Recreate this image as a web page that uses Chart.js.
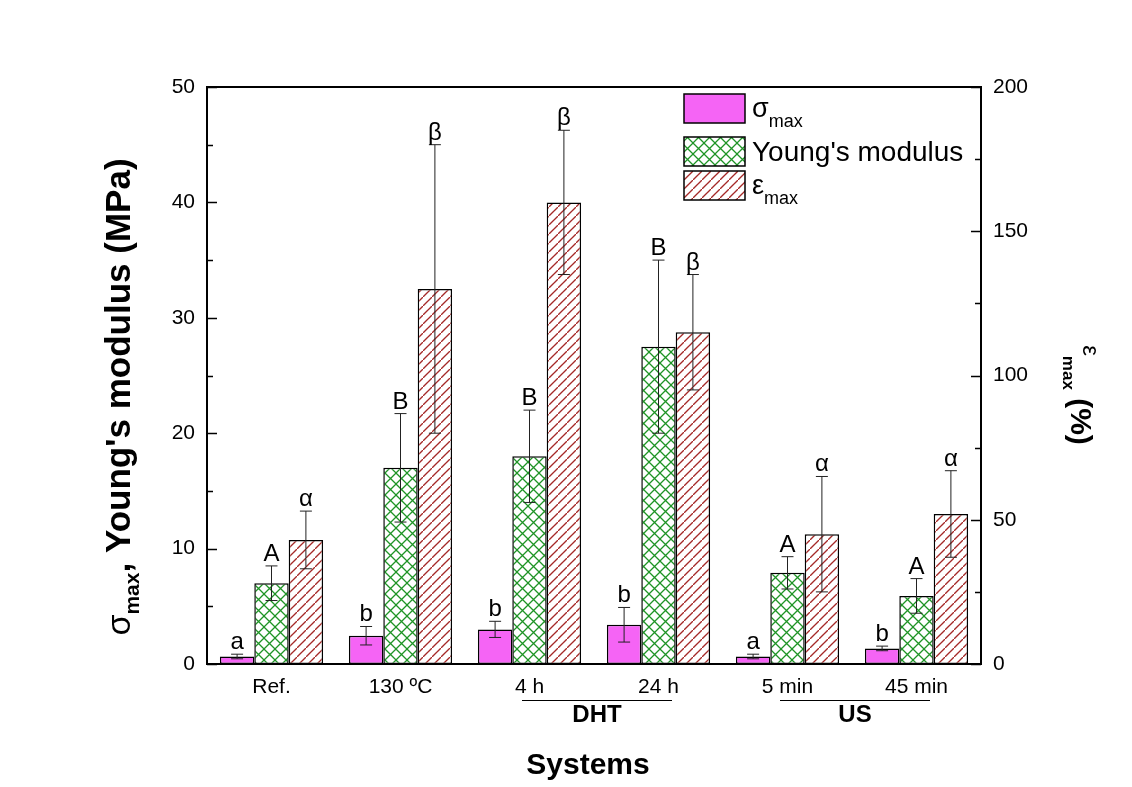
<!DOCTYPE html>
<html>
<head>
<meta charset="utf-8">
<script src="https://cdn.jsdelivr.net/npm/chart.js@4.4.0/dist/chart.umd.min.js"></script>
<style>
  body { margin: 0; background: #fff; }
  #wrap { width: 1132px; height: 787px; }
</style>
</head>
<body>
<div id="wrap"><canvas id="chart"></canvas></div>
<script>
// Daten
const systems = ['Ref.', '130 ºC', '4 h', '24 h', '5 min', '45 min'];
const sigmaMax = [0.65, 2.45, 3.0, 3.4, 0.65, 1.35];     // MPa
const sigmaErr = [0.2, 0.8, 0.7, 1.5, 0.2, 0.2];
const youngMod = [7.0, 17.0, 18.0, 27.5, 7.9, 5.9];      // MPa
const youngErr = [1.5, 4.7, 4.0, 7.5, 1.4, 1.5];
const epsMax = [43, 130, 160, 115, 45, 52];             // %
const epsErr = [10, 50, 25, 20, 20, 15];
const sigmaLetters = ['a', 'b', 'b', 'b', 'a', 'b'];
const youngLetters = ['A', 'B', 'B', 'B', 'A', 'A'];
const epsLetters = ['α', 'β', 'β', 'β', 'α', 'α'];
const leftTicks = [0, 10, 20, 30, 40, 50];
const rightTicks = [0, 50, 100, 150, 200];
const groups = [
  { name: 'DHT', from: 2, to: 3 },
  { name: 'US', from: 4, to: 5 }
];

const FONT = "'Liberation Sans', Arial, sans-serif";
const canvas = document.getElementById('chart');
const mainCtx = canvas.getContext('2d');

// Schraffur-Muster für die Balken
function makePattern(color, cross, size, lw) {
  const c = document.createElement('canvas');
  c.width = size; c.height = size;
  const g = c.getContext('2d');
  g.fillStyle = '#fff';
  g.fillRect(0, 0, size, size);
  g.strokeStyle = color;
  g.lineWidth = lw;
  g.beginPath();
  g.moveTo(-1, size + 1); g.lineTo(size + 1, -1);
  if (cross) { g.moveTo(-1, -1); g.lineTo(size + 1, size + 1); }
  g.stroke();
  return mainCtx.createPattern(c, 'repeat');
}

const sigmaFill = '#f564f5';
const youngFill = makePattern('#1f9426', true, 11, 1.3);
const epsFill = makePattern('#a52a28', false, 9, 1.3);

const errArrays = [sigmaErr, youngErr, epsErr];
const letterArrays = [sigmaLetters, youngLetters, epsLetters];

// Text mit Tiefstellung zeichnen (Teile nacheinander)
function drawParts(ctx, parts, x, y, angle) {
  ctx.save();
  ctx.translate(x, y);
  ctx.rotate(angle);
  let total = 0;
  parts.forEach(p => { ctx.font = p.font; total += ctx.measureText(p.text).width; });
  let cx = -total / 2;
  ctx.textBaseline = 'alphabetic';
  ctx.textAlign = 'left';
  ctx.fillStyle = '#000';
  parts.forEach(p => {
    ctx.font = p.font;
    ctx.fillText(p.text, cx, p.dy || 0);
    cx += ctx.measureText(p.text).width;
  });
  ctx.restore();
}

const errorBars = {
  id: 'errorBars',
  afterDatasetsDraw(chart) {
    const ctx = chart.ctx;
    ctx.save();
    chart.data.datasets.forEach((ds, i) => {
      const meta = chart.getDatasetMeta(i);
      const yScale = chart.scales[ds.yAxisID];
      meta.data.forEach((bar, j) => {
        const v = ds.data[j], e = errArrays[i][j];
        const yTop = yScale.getPixelForValue(v + e);
        const yBot = yScale.getPixelForValue(v - e);
        ctx.strokeStyle = '#222';
        ctx.lineWidth = 1;
        ctx.beginPath();
        ctx.moveTo(bar.x, yTop); ctx.lineTo(bar.x, yBot);
        ctx.moveTo(bar.x - 6, yTop); ctx.lineTo(bar.x + 6, yTop);
        ctx.moveTo(bar.x - 6, yBot); ctx.lineTo(bar.x + 6, yBot);
        ctx.stroke();
        ctx.fillStyle = '#000';
        ctx.font = '24px ' + FONT;
        ctx.textAlign = 'center';
        ctx.textBaseline = 'alphabetic';
        ctx.fillText(letterArrays[i][j], bar.x, yTop - 5);
      });
    });
    ctx.restore();
  }
};

const frameAndDeco = {
  id: 'frameAndDeco',
  afterDraw(chart) {
    const ctx = chart.ctx;
    const a = chart.chartArea;
    const y = chart.scales.y, y2 = chart.scales.y2, x = chart.scales.x;
    ctx.save();
    // Rahmen
    ctx.strokeStyle = '#000';
    ctx.lineWidth = 2;
    ctx.strokeRect(a.left, a.top, a.right - a.left, a.bottom - a.top);
    // Ticks nach innen
    ctx.lineWidth = 1.5;
    ctx.beginPath();
    for (let v = 0; v <= 50; v += 5) {
      const p = Math.round(y.getPixelForValue(v)) + 0.5;
      const len = v % 10 === 0 ? 10 : 6;
      ctx.moveTo(a.left, p); ctx.lineTo(a.left + len, p);
    }
    for (let v = 0; v <= 200; v += 25) {
      const p = Math.round(y2.getPixelForValue(v)) + 0.5;
      const len = v % 50 === 0 ? 10 : 6;
      ctx.moveTo(a.right, p); ctx.lineTo(a.right - len, p);
    }
    ctx.stroke();

    // Gruppen DHT / US
    ctx.lineWidth = 1.2;
    groups.forEach(g => {
      const x1 = x.getPixelForValue(g.from), x2 = x.getPixelForValue(g.to);
      const mid = (x1 + x2) / 2 + 3;
      ctx.beginPath();
      ctx.moveTo(mid - 75, 700.5); ctx.lineTo(mid + 75, 700.5);
      ctx.stroke();
      ctx.fillStyle = '#000';
      ctx.font = 'bold 24px ' + FONT;
      ctx.textAlign = 'center';
      ctx.textBaseline = 'alphabetic';
      ctx.fillText(g.name, mid, 722);
    });

    // Achsentitel
    ctx.font = 'bold 30px ' + FONT;
    ctx.textAlign = 'center';
    ctx.fillText('Systems', (a.left + a.right) / 2 - 6, 774);

    drawParts(ctx, [
      { text: 'σ', font: '34px ' + FONT },
      { text: 'max', font: 'bold 21px ' + FONT, dy: 9 },
      { text: ", Young's modulus (MPa)", font: 'bold 35px ' + FONT }
    ], 130, 397, -Math.PI / 2);

    drawParts(ctx, [
      { text: 'ε', font: '24px ' + FONT, dy: -12 },
      { text: 'max', font: 'bold 17px ' + FONT, dy: 8 },
      { text: ' (%)', font: 'bold 30px ' + FONT }
    ], 1071, 395, Math.PI / 2);

    // Legende
    const items = [
      { fill: sigmaFill, top: 94, parts: [{ t: 'σ', f: '27px ' + FONT }, { t: 'max', f: '18px ' + FONT, dy: 10 }], base: 117 },
      { fill: youngFill, top: 137, parts: [{ t: "Young's modulus", f: '28px ' + FONT }], base: 161 },
      { fill: epsFill, top: 171, parts: [{ t: 'ε', f: '27px ' + FONT }, { t: 'max', f: '18px ' + FONT, dy: 10 }], base: 194 }
    ];
    items.forEach(it => {
      ctx.fillStyle = it.fill;
      ctx.fillRect(684, it.top, 61, 29);
      ctx.lineWidth = 1.5;
      ctx.strokeStyle = '#000';
      ctx.strokeRect(684, it.top, 61, 29);
      let tx = 752;
      ctx.fillStyle = '#000';
      ctx.textAlign = 'left';
      it.parts.forEach(p => {
        ctx.font = p.f;
        ctx.fillText(p.t, tx, it.base + (p.dy || 0));
        tx += ctx.measureText(p.t).width;
      });
    });
    ctx.restore();
  }
};

new Chart(canvas, {
  type: 'bar',
  data: {
    labels: systems,
    datasets: [
      { label: 'σmax', data: sigmaMax, yAxisID: 'y', backgroundColor: sigmaFill,
        borderColor: '#000', borderWidth: 1.5, borderSkipped: false },
      { label: "Young's modulus", data: youngMod, yAxisID: 'y', backgroundColor: youngFill,
        borderColor: '#000', borderWidth: 1.5, borderSkipped: false },
      { label: 'εmax', data: epsMax, yAxisID: 'y2', backgroundColor: epsFill,
        borderColor: '#000', borderWidth: 1.5, borderSkipped: false }
    ]
  },
  options: {
    responsive: true,
    maintainAspectRatio: false,
    animation: false,
    layout: { padding: { top: 87, left: 0, right: 0, bottom: 0 } },
    datasets: { bar: { categoryPercentage: 0.8, barPercentage: 1.0 } },
    plugins: { legend: { display: false }, tooltip: { enabled: false } },
    scales: {
      x: {
        grid: { display: false, drawTicks: false },
        border: { display: false },
        ticks: { color: '#000', font: { family: FONT, size: 21 }, padding: 11, maxRotation: 0 },
        afterFit(s) { s.height = 123; }
      },
      y: {
        position: 'left', min: 0, max: 50,
        afterBuildTicks(s) { s.ticks = leftTicks.map(v => ({ value: v })); },
        grid: { display: false, drawTicks: false },
        border: { display: false },
        ticks: { color: '#000', font: { family: FONT, size: 21 }, padding: 12 },
        afterFit(s) { s.width = 207; }
      },
      y2: {
        position: 'right', min: 0, max: 200,
        afterBuildTicks(s) { s.ticks = rightTicks.map(v => ({ value: v })); },
        grid: { display: false, drawTicks: false },
        border: { display: false },
        ticks: { color: '#000', font: { family: FONT, size: 21 }, padding: 12 },
        afterFit(s) { s.width = 151; }
      }
    }
  },
  plugins: [errorBars, frameAndDeco]
});
</script>
</body>
</html>
